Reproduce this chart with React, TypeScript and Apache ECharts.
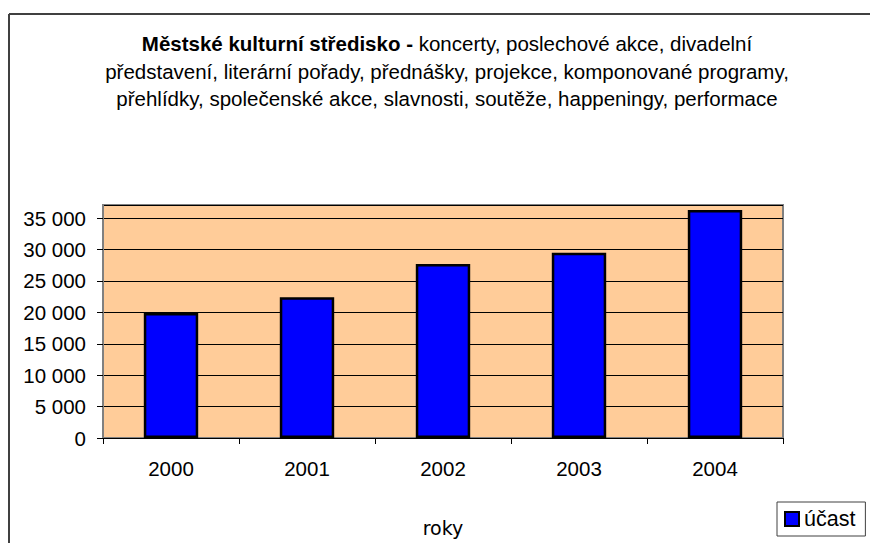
import React, { useEffect, useRef } from "react";
import * as echarts from "echarts";

const categories = ["2000", "2001", "2002", "2003", "2004"];
const ucast = [19900, 22400, 27700, 29500, 36300];
const seriesName = "účast";
const axisName = "roky";
const titleBold = "Městské kulturní středisko - ";
const titleLine1 = "koncerty, poslechové akce, divadelní";
const titleLine2 = "představení, literární pořady, přednášky, projekce, komponované programy,";
const titleLine3 = "přehlídky, společenské akce, slavnosti, soutěže, happeningy, performace";

const FONT = "'Liberation Sans', Arial, sans-serif";
const FS = 20.5;

export default function App() {
  const ref = useRef<HTMLDivElement>(null);
  useEffect(() => {
    if (!ref.current) return;
    const chart = echarts.init(ref.current, null, { renderer: "svg" });
    chart.setOption({
      animation: false,
      backgroundColor: "#ffffff",
      textStyle: { fontFamily: FONT },
      graphic: [
        { type: "line", shape: { x1: 9, y1: 14, x2: 870, y2: 14 }, style: { stroke: "#404040", lineWidth: 2 } },
        { type: "line", shape: { x1: 9, y1: 14, x2: 9, y2: 543 }, style: { stroke: "#404040", lineWidth: 2 } },
        {
          type: "text",
          x: 447,
          y: 30,
          style: {
            text:
              "{b|" + titleBold + "}{n|" + titleLine1 + "}\n{n|" + titleLine2 + "}\n{n|" + titleLine3 + "}",
            align: "center",
            verticalAlign: "top",
            fontFamily: FONT,
            fontSize: FS,
            lineHeight: 27.5,
            fill: "#000",
            rich: {
              b: { fontWeight: "bold", fontSize: FS, fontFamily: FONT, lineHeight: 27.5, fill: "#000" },
              n: { fontWeight: "normal", fontSize: FS, fontFamily: FONT, lineHeight: 27.5, fill: "#000" },
            },
          },
        },
      ],
      grid: {
        left: 103,
        top: 205,
        right: 87,
        bottom: 105,
        show: true,
        backgroundColor: "#FFCC99",
        borderColor: "#808080",
        borderWidth: 2,
      },
      legend: {
        show: true,
        left: 777,
        top: 502,
        orient: "vertical",
        padding: [6, 10, 6, 7],
        borderColor: "#404040",
        borderWidth: 1,
        icon: "rect",
        itemWidth: 14,
        itemHeight: 14,
        itemGap: 4,
        textStyle: { fontSize: 21.5, lineHeight: 21, fontFamily: FONT, color: "#000" },
        data: [seriesName],
      },
      xAxis: {
        type: "category",
        data: categories,
        name: axisName,
        nameLocation: "middle",
        nameGap: 80,
        nameTextStyle: { fontSize: 19, fontFamily: "'DejaVu Sans', sans-serif", color: "#000" },
        axisLine: { show: true, lineStyle: { color: "#000", width: 1 } },
        axisTick: { show: true, length: 6, lineStyle: { color: "#000" } },
        axisLabel: { fontSize: FS, color: "#000", margin: 20, fontFamily: FONT },
      },
      yAxis: {
        type: "value",
        min: 0,
        max: 37100,
        interval: 5000,
        axisLine: { show: true, lineStyle: { color: "#808080", width: 2 } },
        axisTick: { show: true, length: 6, lineStyle: { color: "#000" } },
        axisLabel: {
          fontSize: FS,
          color: "#000",
          margin: 17,
          fontFamily: FONT,
          showMaxLabel: false,
          formatter: (v: number) => (v % 5000 === 0 ? String(v).replace(/\B(?=(\d{3})+(?!\d))/g, " ") : ""),
        },
        splitLine: { show: true, lineStyle: { color: "#000", width: 1 } },
      },
      series: [
        {
          name: seriesName,
          type: "bar",
          data: ucast,
          barWidth: "40%",
          itemStyle: { color: "#0000FF", borderColor: "#000", borderWidth: 2.5 },
        },
      ],
    });
    return () => chart.dispose();
  }, []);
  return <div ref={ref} style={{ position: "fixed", left: 0, top: 0, width: 870, height: 543 }} />;
}
